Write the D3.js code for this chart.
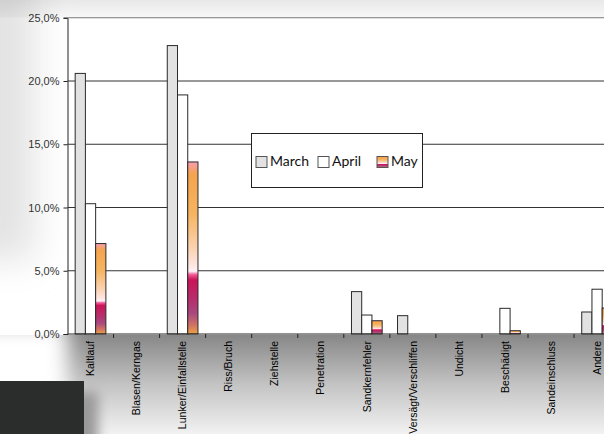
<!DOCTYPE html>
<html>
<head>
<meta charset="utf-8">
<script src="https://cdn.jsdelivr.net/npm/d3@7"></script>
<style>
  html, body { margin: 0; padding: 0; background: #fff; overflow: hidden; }
  svg { display: block; }
  .tick text { font-family: "Liberation Sans", Arial, sans-serif; }
</style>
</head>
<body>
<div id="graph"></div>
<script>
// Fehlerarten, Anteil in Prozent je Monat

const categories = [
  'Kaltlauf', 'Blasen/Kerngas', 'Lunker/Einfallstelle', 'Riss/Bruch',
  'Ziehstelle', 'Penetration', 'Sandkernfehler', 'Versägt/Verschliffen',
  'Undicht', 'Beschädigt', 'Sandeinschluss', 'Andere'
];
const seriesNames = ['March', 'April', 'May'];
const march = [20.6, 0, 22.8, 0, 0, 0, 3.35, 1.45, 0, 0, 0, 1.74];
const april = [10.3, 0, 18.9, 0, 0, 0, 1.5, 0, 0, 2.03, 0, 3.54];
const may   = [7.15, 0, 13.6, 0, 0, 0, 1.05, 0, 0, 0.26, 0, 2.05];
const yTicks = [0, 5, 10, 15, 20, 25];

const W = 604, H = 434;
const plot = { left: 67.5, top: 17.75, bottom: 334, catWidth: 46.05 };

const svg = d3.select('#graph').append('svg')
  .attr('width', W)
  .attr('height', H);

const defs = svg.append('defs');

// May fill: the Excel preset-like sunset gradient
const mayGrad = defs.append('linearGradient')
  .attr('id', 'mayGrad')
  .attr('x1', 0).attr('y1', 0).attr('x2', 0).attr('y2', 1);
[
  [0, '#f79db4'], [0.07, '#f4a44e'], [0.3, '#f6b460'], [0.5, '#fbd2b0'],
  [0.6, '#fde5e0'], [0.635, '#fff2f8'], [0.655, '#f25a98'], [0.685, '#cc1458'],
  [0.8, '#b62f6c'], [0.88, '#a84880'], [0.95, '#d27462'], [1, '#efa242']
].forEach(s => mayGrad.append('stop').attr('offset', s[0]).attr('stop-color', s[1]));

const topGrad = defs.append('linearGradient').attr('id', 'topGrad')
  .attr('x1', 0).attr('y1', 0).attr('x2', 0).attr('y2', 1);
topGrad.append('stop').attr('offset', 0).attr('stop-color', '#000').attr('stop-opacity', 0.09);
topGrad.append('stop').attr('offset', 1).attr('stop-color', '#000').attr('stop-opacity', 0.03);

const bottomGrad = defs.append('linearGradient').attr('id', 'bottomGrad')
  .attr('x1', 0).attr('y1', 0).attr('x2', 0).attr('y2', 1);
bottomGrad.append('stop').attr('offset', 0).attr('stop-color', '#878787');
bottomGrad.append('stop').attr('offset', 0.5).attr('stop-color', '#c4c4c4');
bottomGrad.append('stop').attr('offset', 1).attr('stop-color', '#f3f3f3');

defs.append('filter').attr('id', 'blur')
  .attr('x', '-50%').attr('y', '-50%').attr('width', '200%').attr('height', '200%')
  .append('feGaussianBlur').attr('stdDeviation', 10);
defs.append('filter').attr('id', 'blurWide')
  .attr('x', '-100%').attr('y', '-50%').attr('width', '300%').attr('height', '200%')
  .append('feGaussianBlur').attr('stdDeviation', 18);
defs.append('filter').attr('id', 'blurSmall')
  .attr('x', '-50%').attr('y', '-50%').attr('width', '200%').attr('height', '200%')
  .append('feGaussianBlur').attr('stdDeviation', 6);

// backdrop around the plot
svg.append('rect').attr('x', -40).attr('y', -40).attr('width', 75).attr('height', 300)
  .attr('fill', '#e3e3e3').attr('filter', 'url(#blurWide)');
svg.append('rect').attr('x', 0).attr('y', 0).attr('width', W).attr('height', plot.top)
  .attr('fill', 'url(#topGrad)');
svg.append('rect').attr('x', 0).attr('y', plot.bottom + 1).attr('width', W).attr('height', H - plot.bottom)
  .attr('fill', 'url(#bottomGrad)');
svg.append('rect').attr('x', -40).attr('y', plot.bottom - 10).attr('width', 108).attr('height', 140)
  .attr('fill', '#fff').attr('filter', 'url(#blur)');
svg.append('rect').attr('x', 72).attr('y', 392).attr('width', 26).attr('height', 60)
  .attr('fill', '#999').attr('filter', 'url(#blurSmall)');
svg.append('rect').attr('x', 0).attr('y', 381).attr('width', 84).attr('height', 60)
  .attr('fill', '#2b2d2c');

// plot area
svg.append('rect').attr('x', plot.left).attr('y', plot.top)
  .attr('width', W - plot.left).attr('height', plot.bottom - plot.top)
  .attr('fill', '#fff');

const x = d3.scaleBand()
  .domain(categories)
  .range([plot.left, plot.left + plot.catWidth * categories.length]);

const xs = d3.scaleBand()
  .domain(seriesNames)
  .range([x.bandwidth() / 6, x.bandwidth() * 5 / 6]);

const y = d3.scaleLinear()
  .domain([0, 25])
  .range([plot.bottom, plot.top]);

const locale = d3.formatLocale({ decimal: ',', thousands: '.', grouping: [3], currency: ['', ' €'] });
const pct = locale.format('.1%');

// gridlines + y axis
const yAxis = svg.append('g')
  .attr('transform', `translate(${plot.left},0)`)
  .call(d3.axisLeft(y).tickValues(yTicks).tickSize(4).tickFormat(d => pct(d / 100)));
yAxis.select('.domain').attr('stroke', '#222');
yAxis.selectAll('.tick line').attr('stroke', '#222');
yAxis.selectAll('.tick text')
  .attr('x', -8)
  .attr('font-size', 11)
  .attr('fill', '#333');

svg.append('g')
  .selectAll('line')
  .data(yTicks.filter(d => d > 0))
  .join('line')
    .attr('x1', plot.left)
    .attr('x2', W)
    .attr('y1', d => y(d))
    .attr('y2', d => y(d))
    .attr('stroke', d => d === 25 ? '#777' : '#333')
    .attr('stroke-width', 1);

// bars
const rows = categories.map((c, i) => ({
  category: c,
  values: [
    { series: 'March', value: march[i] },
    { series: 'April', value: april[i] },
    { series: 'May', value: may[i] }
  ]
}));
const fills = { March: '#e2e2e2', April: '#ffffff', May: 'url(#mayGrad)' };

svg.append('g')
  .selectAll('g')
  .data(rows)
  .join('g')
    .attr('transform', d => `translate(${x(d.category)},0)`)
  .selectAll('rect')
  .data(d => d.values.filter(v => v.value > 0))
  .join('rect')
    .attr('x', d => xs(d.series))
    .attr('y', d => y(d.value))
    .attr('width', xs.bandwidth())
    .attr('height', d => y(0) - y(d.value))
    .attr('fill', d => fills[d.series])
    .attr('stroke', '#2a2a2a')
    .attr('stroke-width', 1);

// x axis with category boundary ticks
svg.append('line')
  .attr('x1', plot.left).attr('x2', W)
  .attr('y1', plot.bottom).attr('y2', plot.bottom)
  .attr('stroke', '#222');
svg.append('g')
  .selectAll('line')
  .data(categories)
  .join('line')
    .attr('x1', d => x(d) + x.bandwidth())
    .attr('x2', d => x(d) + x.bandwidth())
    .attr('y1', plot.bottom)
    .attr('y2', plot.bottom + 4)
    .attr('stroke', '#222');

svg.append('g')
  .selectAll('text')
  .data(categories)
  .join('text')
    .attr('transform', d => `translate(${x(d) + x.bandwidth() / 2},341) rotate(-90)`)
    .attr('dy', '0.35em')
    .attr('text-anchor', 'end')
    .attr('font-family', '"Liberation Sans", Arial, sans-serif')
    .attr('font-size', 10.5)
    .attr('fill', '#000')
    .text(d => d);

// legend
const legend = svg.append('g').attr('transform', 'translate(251.5,133.5)');
legend.append('rect')
  .attr('width', 171).attr('height', 54)
  .attr('fill', '#fff').attr('stroke', '#222');
const legendX = [4.5, 66.5, 125.5];
const item = legend.selectAll('g')
  .data(seriesNames)
  .join('g')
    .attr('transform', (d, i) => `translate(${legendX[i]},23)`);
item.append('rect')
  .attr('width', 11).attr('height', 11)
  .attr('fill', d => fills[d])
  .attr('stroke', '#555');
item.append('text')
  .attr('x', 14)
  .attr('y', 9.5)
  .attr('font-family', 'Lato, "Open Sans", sans-serif')
  .attr('font-size', 14)
  .attr('fill', '#111')
  .text(d => d);
</script>
</body>
</html>
